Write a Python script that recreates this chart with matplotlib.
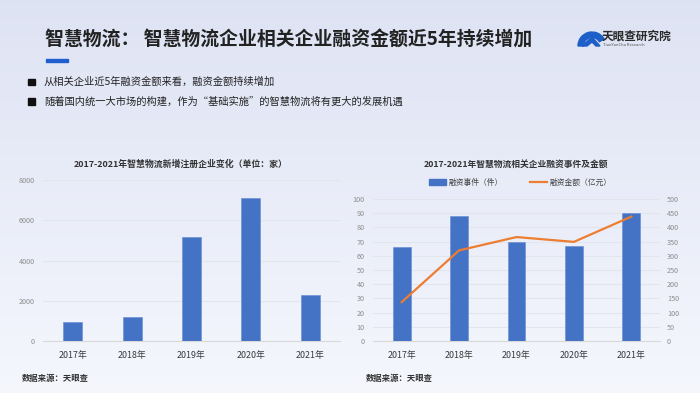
import numpy as np
import matplotlib
matplotlib.use("Agg")
import matplotlib.pyplot as plt
from matplotlib.patches import Rectangle, Wedge, Polygon
from matplotlib.lines import Line2D

plt.rcParams['font.family'] = ['Noto Sans CJK SC', 'DejaVu Sans']

# ---- data ----
years = ["2017年", "2018年", "2019年", "2020年", "2021年"]
new_companies = [930, 1210, 5180, 7090, 2270]
fin_events = [66, 88, 70, 67, 90]
fin_amount = [137, 319, 366, 349, 438]

title = "智慧物流： 智慧物流企业相关企业融资金额近5年持续增加"
bullets = ["从相关企业近5年融资金额来看，融资金额持续增加",
           "随着国内统一大市场的构建，作为“基础实施”的智慧物流将有更大的发展机遇"]
left_title = "2017-2021年智慧物流新增注册企业变化（单位：家）"
right_title = "2017-2021年智慧物流相关企业融资事件及金额"
source = "数据来源：天眼查"
legend_labels = ["融资事件（件）", "融资金额（亿元）"]

BLUE = "#4472C4"
ORANGE = "#ED7D31"
GRID = "#e3e5ec"
TICK = "#8c8c8c"
XT = "#3a3a3a"

W, H = 700, 393
fig = plt.figure(figsize=(7, 3.93), dpi=100)

# background gradient
bg = fig.add_axes([0, 0, 1, 1], zorder=-10)
top = np.array([0.870, 0.890, 0.955])
bot = np.array([0.960, 0.968, 0.992])
t = np.linspace(0, 1, 200)[:, None]
grad = top[None, :] * (1 - t) + bot[None, :] * t
bg.imshow(grad[:, None, :].repeat(2, axis=1), aspect='auto', extent=[0, W, H, 0])
bg.set_xlim(0, W)
bg.set_ylim(H, 0)
bg.axis('off')

def fx(x):
    return x / W

def fy(y):
    return 1 - y / H

# header
fig.text(fx(45), fy(40), title, fontsize=13.6, fontweight='bold', color='#222222',
         va='center', ha='left')
bg.add_patch(Rectangle((46, 58.5), 22, 3.2, color='#1f5fcf', zorder=2))
for i, b in enumerate(bullets):
    yy = 82 + i * 19.5
    bg.add_patch(Rectangle((28, yy - 3.3), 6.5, 6.5, color='#111111', zorder=2))
    fig.text(fx(44), fy(yy), b, fontsize=7.4, color='#222222', va='center', ha='left')

# logo (y axis of bg is inverted, so angles are mirrored)
bg.add_patch(Wedge((592, 46), 14, 180, 330, width=5.5, color='#1d5fc8', zorder=2))
bg.add_patch(Polygon([[582, 46], [592, 37], [600, 46], [596, 46], [592, 42], [587, 46]],
                     closed=True, color='#1d5fc8', zorder=2))
fig.text(fx(602), fy(36.5), "天眼查研究院", fontsize=8.4, color='#2a2a2a', va='center',
         ha='left', fontweight='bold')
fig.text(fx(603), fy(45.5), "TianYanCha Research", fontsize=3.0, color='#555555',
         va='center', ha='left')

x = np.arange(len(years))

# left chart
ax1 = fig.add_axes([fx(43), fy(341), 297 / W, (341 - 180) / H])
ax1.bar(x, new_companies, width=0.32, color=BLUE, edgecolor='#6f93d6', linewidth=0.5, zorder=3)
ax1.set_xlim(-0.5, 4.5)
ax1.set_ylim(0, 8000)
ax1.set_yticks([0, 2000, 4000, 6000, 8000])
ax1.set_xticks(x)
ax1.set_xticklabels(years)
ax1.grid(axis='y', color=GRID, linewidth=0.8, zorder=0)
ax1.set_facecolor('none')
for s in ['top', 'right', 'left']:
    ax1.spines[s].set_visible(False)
ax1.spines['bottom'].set_color('#d9d9d9')
ax1.tick_params(axis='y', length=0, labelsize=5.2, labelcolor=TICK, pad=6)
ax1.tick_params(axis='x', length=0, labelsize=6.4, labelcolor=XT, pad=7)
fig.text(fx(181), fy(164), left_title, fontsize=6.4, fontweight='bold', color='#333333',
         ha='center', va='center')
fig.text(fx(22), fy(378), source, fontsize=6.0, fontweight='bold', color='#333333',
         ha='left', va='center')

# right chart
ax2 = fig.add_axes([fx(373), fy(341), 287 / W, (341 - 199) / H])
ax2.bar(x, fin_events, width=0.31, color=BLUE, edgecolor='#6f93d6', linewidth=0.5, zorder=3)
ax2.set_xlim(-0.5, 4.5)
ax2.set_ylim(0, 100)
ax2.set_yticks(np.arange(0, 101, 10))
ax2.set_xticks(x)
ax2.set_xticklabels(years)
ax2.grid(axis='y', color=GRID, linewidth=0.8, zorder=0)
ax2.set_facecolor('none')
for s in ['top', 'right', 'left']:
    ax2.spines[s].set_visible(False)
ax2.spines['bottom'].set_color('#d9d9d9')
ax2.tick_params(axis='y', length=0, labelsize=5.2, labelcolor=TICK, pad=6)
ax2.tick_params(axis='x', length=0, labelsize=6.4, labelcolor=XT, pad=7)

ax3 = ax2.twinx()
ax3.plot(x, fin_amount, color=ORANGE, linewidth=1.6, zorder=4)
ax3.set_ylim(0, 500)
ax3.set_yticks(np.arange(0, 501, 50))
for s in ['top', 'right', 'left', 'bottom']:
    ax3.spines[s].set_visible(False)
ax3.tick_params(axis='y', length=0, labelsize=5.2, labelcolor=TICK, pad=5)

fig.text(fx(516), fy(164), right_title, fontsize=6.3, fontweight='bold', color='#333333',
         ha='center', va='center')
handles = [Rectangle((0, 0), 1, 1, color=BLUE), Line2D([0], [0], color=ORANGE, linewidth=1.6)]
fig.legend(handles, legend_labels, loc='center', bbox_to_anchor=(fx(520), fy(183)),
           ncol=2, frameon=False, fontsize=5.6, handlelength=2.2, handleheight=0.8,
           columnspacing=3.5, handletextpad=0.3, labelcolor='#444444')
fig.text(fx(366), fy(378), source, fontsize=6.0, fontweight='bold', color='#333333',
         ha='left', va='center')

fig.savefig("out.png", dpi=100)
